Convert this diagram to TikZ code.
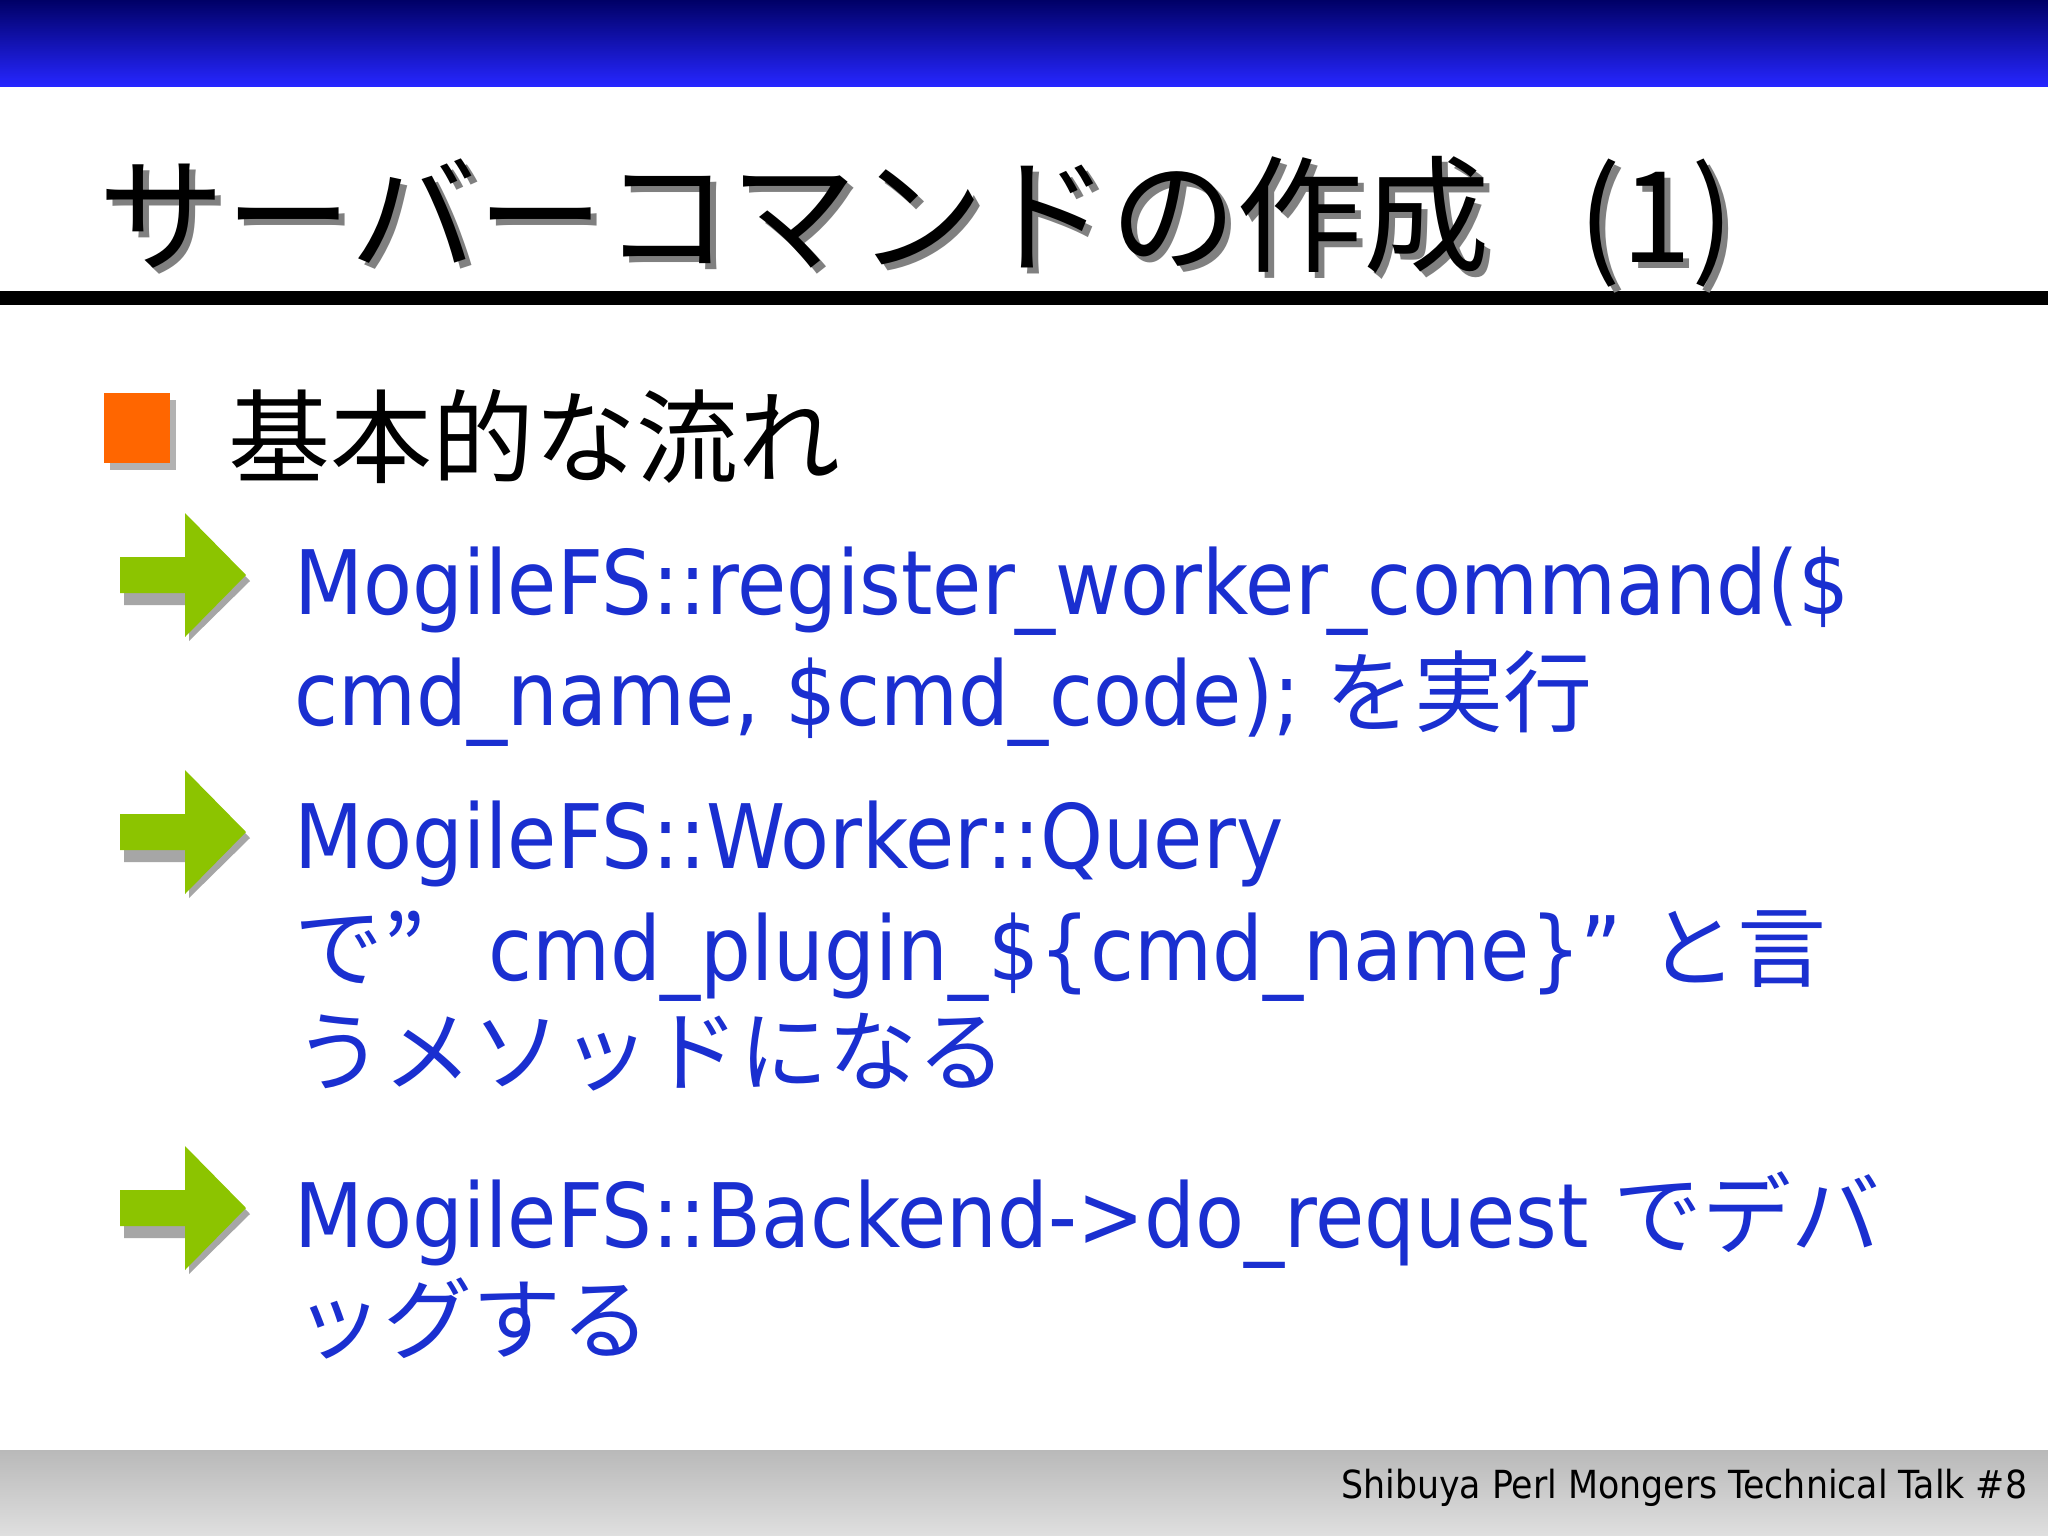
\documentclass[tikz,border=0pt]{standalone}
\usepackage{fontspec}
\setsansfont{DejaVu Sans Condensed}
\newfontfamily\jp{Noto Sans CJK JP}
\newfontfamily\lat{DejaVu Sans Condensed}
\newfontfamily\foot{DejaVu Sans Condensed}
\definecolor{txtblue}{HTML}{1A2FD0}
\definecolor{arrgreen}{HTML}{8CC400}
\definecolor{bulorange}{HTML}{FF6600}
\tikzset{
 body/.style={anchor=base west,inner sep=0,text=txtblue,font=\fontsize{25.3}{30}\selectfont},
 greenarrow/.pic={
   \fill[gray!70] (4,-10)--(69,-10)--(69,-56)--(130,6)--(69,66)--(69,30)--(4,30)--cycle;
   \fill[arrgreen] (0,-18)--(65,-18)--(65,-62)--(126,0)--(65,62)--(65,18)--(0,18)--cycle;
 }
}
\begin{document}
\begin{tikzpicture}[x=0.01cm,y=-0.01cm]
\useasboundingbox (0,0) rectangle (2048,1536);
\fill[white] (0,0) rectangle (2048,1536);
\shade[top color=black!20!blue!50!black, bottom color=blue!85!white] (0,0) rectangle (2048,86);
\shade[top color=gray!55, bottom color=gray!25] (0,1450) rectangle (2048,1536);
\fill[black] (0,291) rectangle (2048,305);
% title with shadow
\node (title) [anchor=base west,inner sep=0,font=\jp\fontsize{36}{40}\selectfont] at (98,262) {\rlap{\kern0.06cm\raisebox{-0.06cm}{\textcolor{gray}{サーバーコマンドの作成\hspace{0.7em}(1)}}}サーバーコマンドの作成\hspace{0.7em}(1)};
% bullet
\fill[gray!60] (110,400) rectangle (176,470);
\fill[bulorange] (104,393) rectangle (170,463);
\node (b0) [anchor=base west,inner sep=0,font=\jp\fontsize{29}{34}\selectfont] at (228,475) {基本的な流れ};
% arrows
\pic at (120,575) {greenarrow};
\pic at (120,832) {greenarrow};
\pic at (120,1208) {greenarrow};
\node (l1) [body] at (294,614) {\lat MogileFS::register\_worker\_command(\$};
\node (l2) [body] at (294,725) {\lat cmd\_name, \$cmd\_code); \jp を実行};
\node (l3) [body] at (294,868) {\lat MogileFS::Worker::Query};
\node (l4) [body] at (294,980) {\jp で”\hspace{0.7em}\lat cmd\_plugin\_\$\{cmd\_name\}” \jp と言};
\node (l5) [body] at (294,1084) {\jp うメソッドになる};
\node (l6) [body] at (294,1247) {\lat MogileFS::Backend->do\_request \jp でデバ};
\node (l7) [body] at (294,1352) {\jp ッグする};
\node (ft) [anchor=base east,inner sep=0,font=\foot\fontsize{11}{13}\selectfont] at (2028,1498) {Shibuya Perl Mongers Technical Talk \#8};
\end{tikzpicture}
\end{document}
